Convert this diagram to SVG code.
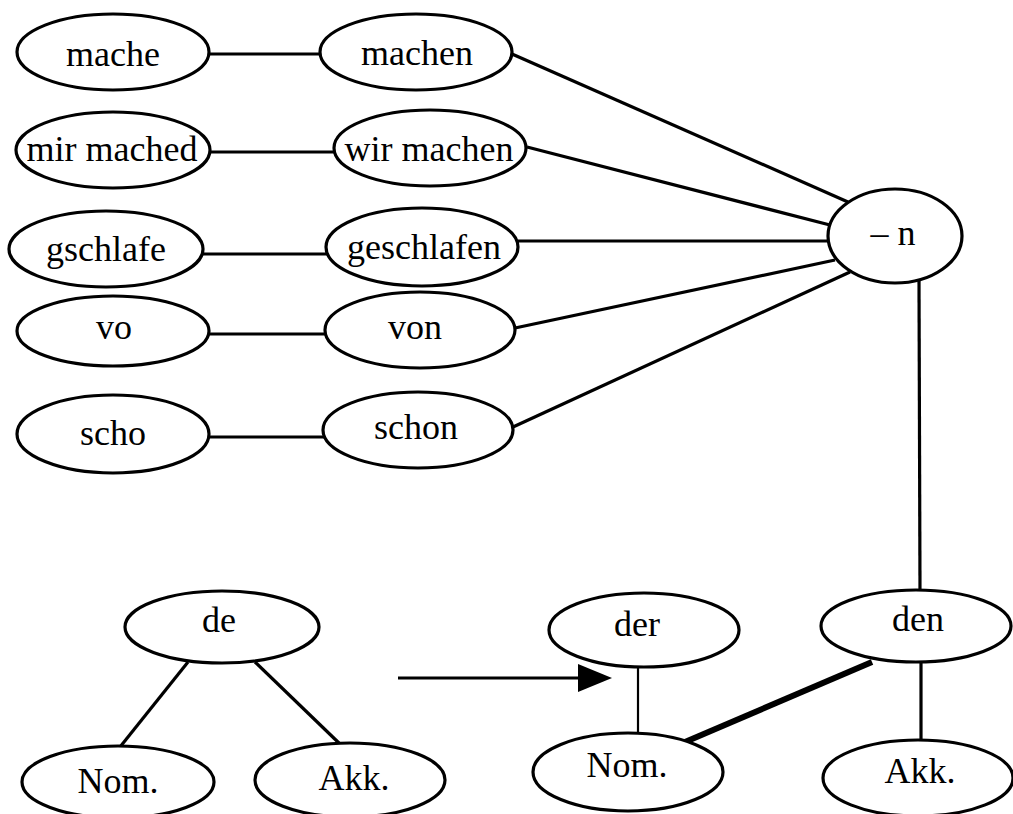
<svg xmlns="http://www.w3.org/2000/svg" width="1013" height="814" viewBox="0 0 1013 814">
<style>
.n ellipse{fill:#fff;stroke:#000;stroke-width:3.2}
.n text{font-family:"Liberation Serif","Times New Roman",serif;font-size:36px;fill:#000;text-anchor:middle}
.c line{stroke:#000;stroke-width:3.2;fill:none}
</style>
<defs>
<marker id="ah" markerUnits="userSpaceOnUse" markerWidth="34" markerHeight="28" refX="22" refY="14" orient="auto">
<path d="M0,0 L34,14 L0,28 z" fill="#000"/>
</marker>
</defs>
<rect width="1013" height="814" fill="#fff"/>
<g id="connectors" class="c">
<line x1="209" y1="54" x2="320" y2="54"/>
<line x1="210" y1="152" x2="334" y2="152"/>
<line x1="203" y1="254" x2="327" y2="254"/>
<line x1="210" y1="334" x2="325" y2="334"/>
<line x1="210" y1="437" x2="324" y2="437"/>
<line x1="512" y1="54" x2="848" y2="202"/>
<line x1="527" y1="147" x2="830" y2="225"/>
<line x1="518" y1="241" x2="830" y2="241"/>
<line x1="515" y1="328" x2="835" y2="260"/>
<line x1="513" y1="427" x2="850" y2="272"/>
<line x1="919" y1="281" x2="920" y2="591"/>
<line x1="188" y1="662" x2="120" y2="747"/>
<line x1="255" y1="662" x2="340" y2="744"/>
<line x1="398" y1="678" x2="600" y2="678" stroke-width="2.6" marker-end="url(#ah)"/>
<line x1="638" y1="666" x2="638" y2="734" style="stroke-width:2.2"/>
<line x1="872" y1="662" x2="685" y2="742" style="stroke-width:6"/>
<line x1="921" y1="662" x2="921" y2="741"/>
</g>
<g id="n-mache" class="n"><ellipse cx="113" cy="52" rx="96" ry="38"/><text x="113" y="66">mache</text></g>
<g id="n-machen" class="n"><ellipse cx="416" cy="52" rx="96" ry="38"/><text x="417" y="65">machen</text></g>
<g id="n-mirmached" class="n"><ellipse cx="113" cy="150" rx="97" ry="38"/><text x="112" y="161">mir mached</text></g>
<g id="n-wirmachen" class="n"><ellipse cx="430" cy="148" rx="96" ry="38"/><text x="429" y="161">wir machen</text></g>
<g id="n-gschlafe" class="n"><ellipse cx="106" cy="249" rx="97" ry="38"/><text x="106" y="261">gschlafe</text></g>
<g id="n-geschlafen" class="n"><ellipse cx="422" cy="247" rx="96" ry="39"/><text x="424" y="259">geschlafen</text></g>
<g id="n-vo" class="n"><ellipse cx="113" cy="331" rx="96" ry="35"/><text x="114" y="339">vo</text></g>
<g id="n-von" class="n"><ellipse cx="420" cy="330" rx="95" ry="38"/><text x="415" y="339">von</text></g>
<g id="n-scho" class="n"><ellipse cx="113" cy="434" rx="96" ry="39"/><text x="113" y="445">scho</text></g>
<g id="n-schon" class="n"><ellipse cx="418" cy="430" rx="95" ry="38"/><text x="416" y="439">schon</text></g>
<g id="n-suffix" class="n"><ellipse cx="895" cy="236" rx="67" ry="47"/><text x="893" y="245">– n</text></g>
<g id="n-de" class="n"><ellipse cx="222" cy="627" rx="97" ry="36"/><text x="219" y="632">de</text></g>
<g id="n-nom1" class="n"><ellipse cx="118" cy="782" rx="96" ry="36"/><text x="118" y="793">Nom.</text></g>
<g id="n-akk1" class="n"><ellipse cx="350" cy="780" rx="95" ry="37"/><text x="354" y="790">Akk.</text></g>
<g id="n-der" class="n"><ellipse cx="644" cy="630" rx="95" ry="37"/><text x="637" y="636">der</text></g>
<g id="n-den" class="n"><ellipse cx="916" cy="626" rx="95" ry="36"/><text x="918" y="631">den</text></g>
<g id="n-nom2" class="n"><ellipse cx="628" cy="772" rx="95" ry="39"/><text x="627" y="777">Nom.</text></g>
<g id="n-akk2" class="n"><ellipse cx="918" cy="778" rx="95" ry="38"/><text x="920" y="783">Akk.</text></g>
</svg>
